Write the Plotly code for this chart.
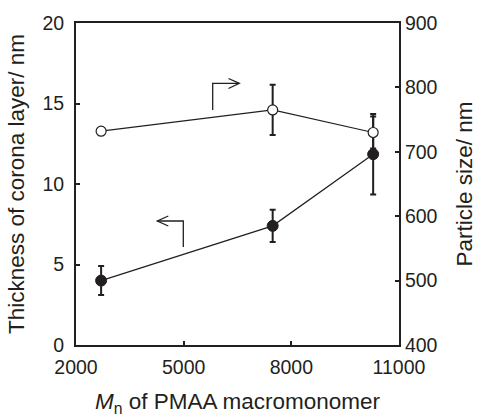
import plotly.graph_objects as go

# Data
mn = [2700, 7480, 10280]
thickness = [4.0, 7.4, 11.85]
thickness_err = [0.9, 1.0, 2.5]
particle_size = [732, 765, 730]
particle_err = [0, 39, 25]

x_ticks = [2000, 5000, 8000, 11000]
y1_ticks = [0, 5, 10, 15, 20]
y2_ticks = [400, 500, 600, 700, 800, 900]

INK = "#231f20"
FONT = "Liberation Sans, Arial, sans-serif"

fig = go.Figure()
fig.add_trace(go.Scatter(
    x=mn, y=thickness, mode="lines+markers",
    line=dict(color=INK, width=1.2),
    marker=dict(symbol="circle", size=11, color=INK, line=dict(color=INK, width=1)),
    error_y=dict(type="data", array=thickness_err, color=INK, thickness=2, width=3),
    yaxis="y", showlegend=False,
))
fig.add_trace(go.Scatter(
    x=mn, y=particle_size, mode="lines+markers",
    line=dict(color=INK, width=1.2),
    marker=dict(symbol="circle", size=10, color="white", line=dict(color=INK, width=1.2)),
    error_y=dict(type="data", array=particle_err, color=INK, thickness=2, width=3),
    yaxis="y2", showlegend=False,
))

# plot box in page pixels
L, R, T, B = 76, 399, 23, 345
W, H = 477, 417

def px(xp, yp):
    return (xp - L) / (R - L), (B - yp) / (B - T)

def path(points):
    s = ""
    for i, (a, b) in enumerate(points):
        u, v = px(a, b)
        s += ("M" if i == 0 else "L") + f"{u:.4f},{v:.4f} "
    return s.strip()

shapes = []
# upper arrow (points right -> right axis)
shapes.append(dict(type="path", xref="paper", yref="paper",
                   path=path([(212.7, 110), (212.7, 83.3), (239, 83.3)]),
                   line=dict(color=INK, width=1.3)))
shapes.append(dict(type="path", xref="paper", yref="paper",
                   path=path([(228.5, 78.5), (239.3, 83.3), (228.5, 88.5)]),
                   line=dict(color=INK, width=1.3)))
# lower arrow (points left -> left axis)
shapes.append(dict(type="path", xref="paper", yref="paper",
                   path=path([(183.3, 247), (183.3, 221), (157.5, 221)]),
                   line=dict(color=INK, width=1.3)))
shapes.append(dict(type="path", xref="paper", yref="paper",
                   path=path([(168.3, 216), (157.3, 221), (168.3, 226)]),
                   line=dict(color=INK, width=1.3)))

fig.update_layout(
    width=W, height=H, autosize=False,
    margin=dict(l=L, r=W - R, t=T, b=H - B, autoexpand=False),
    paper_bgcolor="white", plot_bgcolor="white",
    font=dict(family=FONT, size=19.5, color=INK),
    shapes=shapes,
    xaxis=dict(
        range=[2000, 11000], tickvals=x_ticks, ticktext=[str(v) for v in x_ticks],
        ticks="inside", ticklen=4, tickwidth=1.5, tickcolor=INK,
        showline=True, linecolor=INK, linewidth=2, mirror=True,
        showgrid=False, zeroline=False, ticklabelstandoff=4, automargin=False,
        title=dict(text="<i>M</i><sub>n</sub> of PMAA macromonomer", font=dict(size=22.5), standoff=18),
    ),
    yaxis=dict(
        range=[0, 20], tickvals=y1_ticks,
        ticks="inside", ticklen=4, tickwidth=1.5, tickcolor=INK,
        showline=True, linecolor=INK, linewidth=2,
        showgrid=False, zeroline=False, ticklabelstandoff=6, automargin=False,
        title=dict(text="Thickness of corona layer/ nm", font=dict(size=22.5), standoff=12),
    ),
    yaxis2=dict(
        range=[400, 900], tickvals=y2_ticks, overlaying="y", side="right",
        ticks="inside", ticklen=4, tickwidth=1.5, tickcolor=INK,
        showline=True, linecolor=INK, linewidth=2,
        showgrid=False, zeroline=False, automargin=False,
        title=dict(text="Particle size/ nm", font=dict(size=22.5), standoff=24),
    ),
)

fig.write_html(
    "out.html",
    config=dict(displayModeBar=False),
    post_script="document.body.style.margin='0';document.body.style.overflow='hidden';",
)
